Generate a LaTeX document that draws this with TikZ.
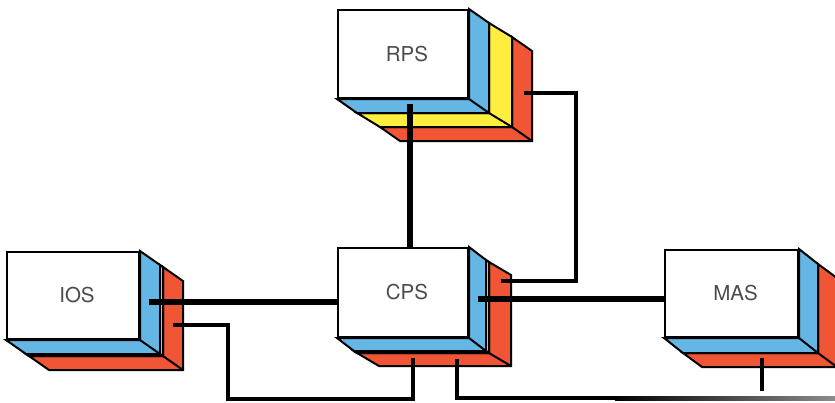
\documentclass[tikz,border=0pt]{standalone}
\usepackage{fontspec}
\setmainfont{TeX Gyre Heros}
\usetikzlibrary{calc,backgrounds}

\definecolor{slabblue}{RGB}{100,182,228}
\definecolor{slabyellow}{RGB}{255,238,62}
\definecolor{slabred}{RGB}{240,86,54}
\definecolor{labelgray}{RGB}{75,75,75}

\tikzset{
  edge/.style={line width=2pt, line join=miter},
  frontface/.style={draw, fill=white, edge, inner sep=0pt,
    font=\fontsize{20.5}{20.5}\selectfont, text=labelgray},
  busline/.style={line width=5.4pt},
  wireline/.style={line width=3.3pt, line join=miter},
}

% one layer of a unit: side and bottom faces between offsets #3 and #4
\newcommand\unitslab[4]{%
  \filldraw[fill=#2, edge]
    ($(#1.north east)+#3$) -- ($(#1.north east)+#4$) --
    ($(#1.south east)+#4$) -- ($(#1.south west)+#4$) --
    ($(#1.south west)+#3$) -- ($(#1.south east)+#3$) -- cycle;
  \draw[edge] ($(#1.south east)+#3$) -- ($(#1.south east)+#4$);
}

\begin{document}
\begin{tikzpicture}[x=1pt, y=-1pt]
\useasboundingbox (0,0) rectangle (835,402);
\clip (0,0) rectangle (835,402);

% front faces of the four units
\node[frontface, minimum width=130pt, minimum height=88pt] (rps) at (403,54) {\raisebox{-3pt}{\hspace{8pt}RPS}};
\node[frontface, minimum width=132pt, minimum height=87pt] (ios) at (73,295.5) {\raisebox{-3pt}{\hspace{8pt}IOS}};
\node[frontface, minimum width=130pt, minimum height=89pt] (cps) at (403,292.5) {\raisebox{-3pt}{\hspace{8pt}CPS}};
\node[frontface, minimum width=133pt, minimum height=87pt] (mas) at (731.5,293.5) {\raisebox{-3pt}{\hspace{8pt}MAS}};

% stacked layers behind each front face, outermost first
\begin{pgfonlayer}{background}
  \unitslab{rps}{slabred}{(43,28)}{(63,42)}
  \unitslab{rps}{slabyellow}{(20,14)}{(43,28)}
  \unitslab{rps}{slabblue}{(0,0)}{(20,14)}

  \unitslab{ios}{slabred}{(23,16)}{(43,30)}
  \unitslab{ios}{white}{(20,14)}{(23,16)}
  \unitslab{ios}{slabblue}{(0,0)}{(20,14)}

  \unitslab{cps}{slabred}{(20,15)}{(42,28)}
  \unitslab{cps}{white}{(17,13)}{(20,15)}
  \unitslab{cps}{slabblue}{(0,0)}{(17,13)}

  \unitslab{mas}{slabred}{(19,15)}{(38,29)}
  \unitslab{mas}{slabblue}{(0,0)}{(19,15)}
\end{pgfonlayer}

% connection points on the layers
\coordinate (rps-bus) at ($(rps.south)+(7,5)$);
\coordinate (rps-wire) at ($(rps.south east)+(55,-6)$);
\coordinate (ios-bus) at ($(ios.east)+(9,6.5)$);
\coordinate (ios-wire) at ($(ios.south east)+(33,-15)$);
\coordinate (cps-bus) at ($(cps.east)+(9,6.5)$);
\coordinate (cps-wire) at ($(cps.north east)+(32,34)$);
\coordinate (cps-low1) at ($(cps.south)+(10,20)$);
\coordinate (cps-low2) at ($(cps.south)+(54,21)$);
\coordinate (mas-low) at ($(mas.south)+(30.5,20)$);
\coordinate (mas-end) at ($(mas-low)+(0,33)$);
\coordinate (edge-end) at (835,398);

% connectors
\draw[busline] (rps-bus) -- (rps-bus |- cps.north);
\draw[busline] (ios-bus) -- (ios-bus -| cps.west);
\draw[busline] (cps-bus) -- (cps-bus -| mas.west);
\draw[wireline] (rps-wire) -- ++(52,0) |- (cps-wire);
\draw[wireline] (ios-wire) -- ++(55,0) |- ($(cps-low1)+(0,41)$) -- (cps-low1);
\draw[wireline] (cps-low2) |- (edge-end);
\draw[wireline] (mas-low) -- (mas-end);
\shade[left color=black, right color=black!45] (615,396.2) rectangle (835,400.6);
\end{tikzpicture}
\end{document}
